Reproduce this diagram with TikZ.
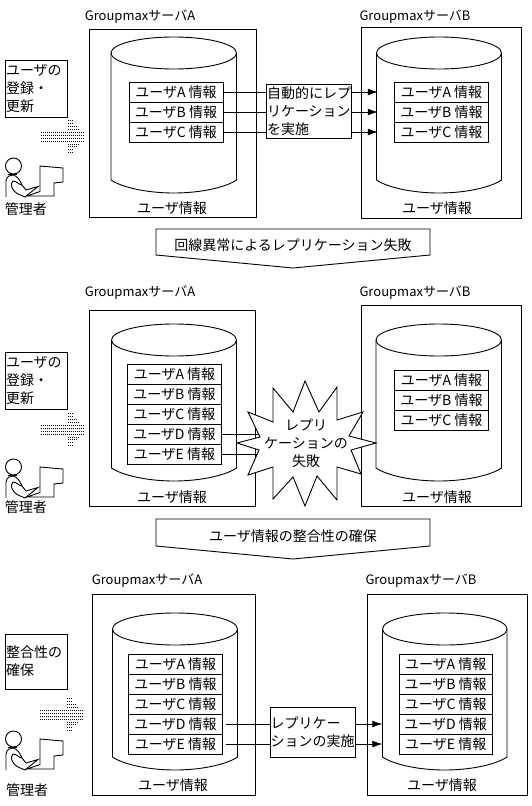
\documentclass[tikz,border=0pt]{standalone}
\usepackage{fontspec}
\setmainfont{Noto Sans CJK JP}
\usepackage{xcolor}
\usetikzlibrary{arrows.meta,positioning,calc}

\newcommand{\drum}[4]{% left, right, top, bottom
  \draw[fill=white] (#1,#3+16) arc[start angle=180,end angle=-180,x radius={(#2-#1)/2},y radius=16];
  \draw (#1,#3+16) -- (#1,#4-13) .. controls (#1+12,#4-5) and ({#1+(#2-#1)*0.3},#4) .. ({(#1+#2)/2},#4)
    .. controls ({#2-(#2-#1)*0.3},#4) and (#2-12,#4-5) .. (#2,#4-13) -- (#2,#3+16);
}

\begin{document}
\begin{tikzpicture}[x=1pt,y=-1pt,line width=0.9pt,
  txt/.style={font=\fontsize{14}{18}\selectfont,inner sep=0pt},
  lab/.style={font=\fontsize{13}{17}\selectfont,inner sep=0pt},
  srv/.style={draw,minimum width=#1,minimum height=188pt,inner sep=0pt,outer sep=0pt},
  row/.style={draw,txt,minimum width=94pt,minimum height=20pt,outer sep=0pt},
  memo/.style={draw,txt,align=left,anchor=north west,minimum width=62pt,text width=60pt,minimum height=57pt,inner sep=1pt,outer sep=0pt},
  repl/.style={draw,fill=white,txt,outer sep=0pt,inner sep=0.5pt},
  rx/.style={-{Latex[length=3.6mm,width=2.4mm]}},
  admin/.pic={
    \draw (8.5,9) circle[radius=8];
    \draw[line width=1.6pt] (3,17.5) -- (12,17.5);
    \draw (1,40) -- (1,24) .. controls (2,19) and (5,18) .. (8,18) .. controls (13,19) and (15,24) .. (17,28)
      -- (21,33) -- (33,29.5) -- (20,40) -- (13,37) .. controls (6,33) and (5,27) .. (8,24) .. controls (12,24) and (14,28) .. (17,28);
    \draw (22,39) -- (35,34.5) -- (35,9) -- (58,11) -- (58,25) -- (49,26) -- (49,39) -- cycle;
  },
  dotarrow/.pic={
    \foreach \dy in {-4.5,-1.5,1.5,4.5} \foreach \dx in {0,2,...,42} \fill (\dx,\dy) rectangle +(0.8,0.8);
    \foreach \dy in {-16,-13,13,16} \foreach \dx in {27,29,31} \fill (\dx,\dy) rectangle +(0.8,0.8);
    \foreach \dy in {-10,10} \foreach \dx in {27,29,...,35} \fill (\dx,\dy) rectangle +(0.8,0.8);
    \foreach \dy in {-7.5,7.5} \foreach \dx in {27,29,...,38} \fill (\dx,\dy) rectangle +(0.8,0.8);
  }]
  \useasboundingbox (0,0) rectangle (532,806);

  % first state
  \node[lab] (lblA1) at (140,17) {GroupmaxサーバA};
  \node[lab] (lblB1) at (415,17) {GroupmaxサーバB};
  \node[srv=167.5pt] (srvA1) at (173,123) {};
  \node[srv=160pt,minimum height=191pt] (srvB1) at (441.5,122.5) {};
  \drum{111}{236.5}{37}{193}
  \drum{376.5}{501.5}{37}{193}
  \foreach \n/\t/\y in {A/A/92,B/B/112,C/C/132}
    \node[row] (a\n1) at (176,\y) {ユーザ\t{} 情報};
  \foreach \n/\t/\y in {A/A/92,B/B/112,C/C/132}
    \node[row] (b\n1) at (441.5,\y) {ユーザ\t{} 情報};
  \node[txt] (infoA1) at (172,208) {ユーザ情報};
  \node[txt] (infoB1) at (437,208) {ユーザ情報};
  \node[memo] (memo1) at (5,60) {ユーザの\\登録・\\更新};
  \node[repl,align=left,minimum width=85pt,minimum height=54pt] (rep1) at (309,111) {自動的にレプ\\リケーション\\を実施};
  \foreach \n in {A,B,C} {
    \coordinate (t\n1) at (378,0 |- a\n1);
    \draw (a\n1.east) -- (rep1.west |- a\n1);
    \draw[rx] (rep1.east |- a\n1) -- (t\n1);
  }
  \pic at (41,136) {dotarrow};
  \pic at (5,157) {admin};
  \node[txt] (adm1) at (26,209) {管理者};

  \draw (156,229) -- (430,229) -- (430,255) -- (293,268) -- (156,255) -- cycle;
  \node[txt] (ban1) at (293,245) {回線異常によるレプリケーション失敗};

  % second state
  \node[lab] (lblA2) at (140,293) {GroupmaxサーバA};
  \node[lab] (lblB2) at (415,293) {GroupmaxサーバB};
  \node[srv=166.5pt,minimum height=196.5pt] (srvA2) at (172.5,408.3) {};
  \node[srv=160pt,minimum height=201pt] (srvB2) at (441.7,406.2) {};
  \drum{111.5}{236.5}{324}{481}
  \drum{376}{501.5}{324}{481}
  \foreach \n/\t/\y in {A/A/374,B/B/394,C/C/414,D/D/434.5,E/E/454.5}
    \node[row] (a\n2) at (174.5,\y) {ユーザ\t{} 情報};
  \foreach \n/\t/\y in {A/A/380,B/B/400,C/C/420}
    \node[row] (b\n2) at (441.5,\y) {ユーザ\t{} 情報};
  \node[txt] (infoA2) at (172,497) {ユーザ情報};
  \node[txt] (infoB2) at (437,497) {ユーザ情報};
  \node[memo] (memo2) at (5,352) {ユーザの\\登録・\\更新};
  \coordinate (failD) at (262,434.5);
  \coordinate (failE) at (262,454.5);
  \draw (aD2.east) -- (failD);
  \draw (aE2.east) -- (failE);
  \draw[fill=white] (305,381) -- (319,412) -- (337,387) -- (337,420) -- (363,412) -- (349,436) -- (376,443)
    -- (351,450) -- (361,474) -- (337,467) -- (337,500) -- (317,476) -- (305,506) -- (293,477) -- (273,499)
    -- (273,467) -- (248,475) -- (259,450) -- (237,443) -- (260,437) -- (248,412) -- (273,422) -- (273,388)
    -- (293,412) -- cycle;
  \node[txt,align=center] (fail) at (306,443) {レプリ\\ケーションの\\失敗};
  \pic at (41,429) {dotarrow};
  \pic at (5,458) {admin};
  \node[txt] (adm2) at (26,507) {管理者};

  \draw (156,519) -- (430,519) -- (430,546) -- (293,559) -- (156,546) -- cycle;
  \node[txt] (ban2) at (293,536) {ユーザ情報の整合性の確保};

  % third state
  \node[lab] (lblA3) at (147,581) {GroupmaxサーバA};
  \node[lab] (lblB3) at (421,581) {GroupmaxサーバB};
  \node[srv=163pt,minimum height=201.5pt] (srvA3) at (174.2,694.8) {};
  \node[srv=160.5pt,minimum height=201.5pt] (srvB3) at (447.3,694.8) {};
  \drum{112.5}{237.5}{613}{770}
  \drum{382.5}{507}{613}{770}
  \foreach \n/\t/\y in {A/A/664,B/B/684,C/C/704,D/D/724,E/E/744}
    \node[row] (a\n3) at (175.5,\y) {ユーザ\t{} 情報};
  \foreach \n/\t/\y in {A/A/664,B/B/684,C/C/704,D/D/724,E/E/744}
    \node[row,minimum width=93.5pt] (b\n3) at (445.7,\y) {ユーザ\t{} 情報};
  \node[txt] (infoA3) at (173,785) {ユーザ情報};
  \node[txt] (infoB3) at (442,785) {ユーザ情報};
  \node[memo,minimum height=55pt] (memo3) at (5,634) {整合性の\\確保};
  \node[repl,align=left,minimum width=85.5pt,minimum height=50pt] (rep3) at (312.7,732) {レプリケー\\ションの実施};
  \foreach \n in {D,E} {
    \coordinate (t\n3) at (382.5,0 |- a\n3);
    \draw ([xshift=3.5pt]a\n3.east) -- (rep3.west |- a\n3);
    \draw[rx] (rep3.east |- a\n3) -- (t\n3);
  }
  \pic at (40,714) {dotarrow};
  \pic at (5,730) {admin};
  \node[txt] (adm3) at (27,790) {管理者};
\end{tikzpicture}
\end{document}
